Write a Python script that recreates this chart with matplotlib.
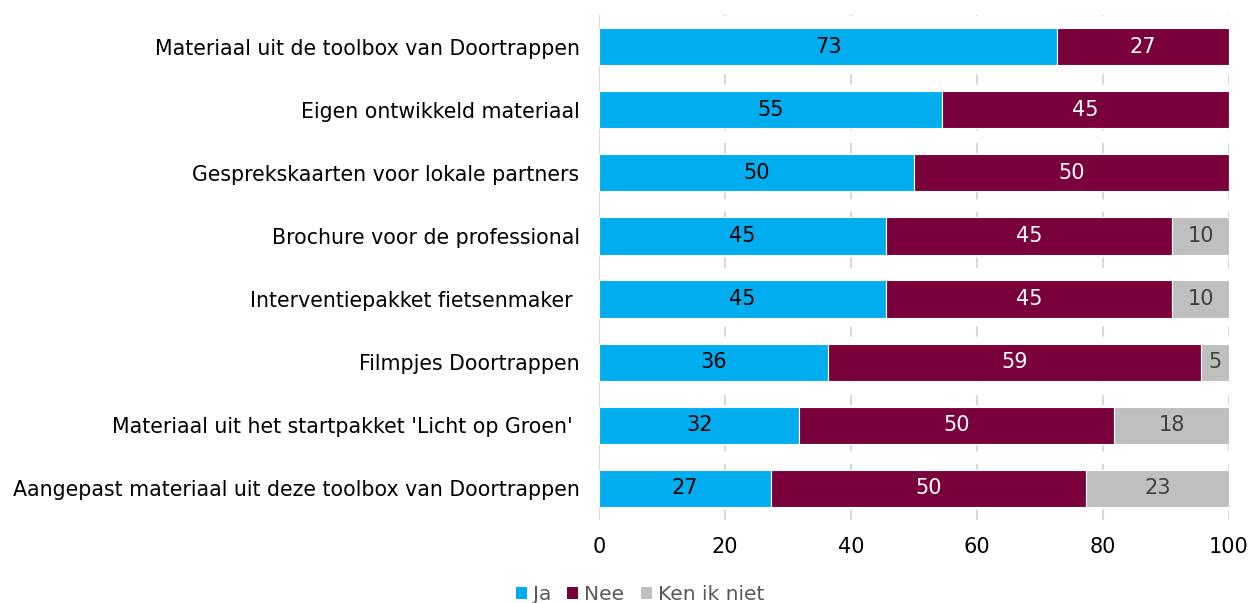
import numpy as np
import matplotlib.pyplot as plt
from matplotlib.patches import Patch

categories = [
    "Materiaal uit de toolbox van Doortrappen",
    "Eigen ontwikkeld materiaal",
    "Gesprekskaarten voor lokale partners",
    "Brochure voor de professional",
    "Interventiepakket fietsenmaker ",
    "Filmpjes Doortrappen",
    "Materiaal uit het startpakket 'Licht op Groen' ",
    "Aangepast materiaal uit deze toolbox van Doortrappen",
]
ja = [72.7, 54.5, 50.0, 45.5, 45.5, 36.4, 31.8, 27.3]
nee = [27.3, 45.5, 50.0, 45.5, 45.5, 59.1, 50.0, 50.0]
ken_ik_niet = [0.0, 0.0, 0.0, 9.0, 9.0, 4.5, 18.2, 22.7]
ja_labels = ["73", "55", "50", "45", "45", "36", "32", "27"]
nee_labels = ["27", "45", "50", "45", "45", "59", "50", "50"]
kin_labels = ["", "", "", "10", "10", "5", "18", "23"]

series = [
    ("Ja", ja, ja_labels, "#00AEEF", "black"),
    ("Nee", nee, nee_labels, "#7A003C", "white"),
    ("Ken ik niet", ken_ik_niet, kin_labels, "#BFBFBF", "#404040"),
]

plt.rcParams['font.family'] = 'DejaVu Sans'

fig = plt.figure(figsize=(12.5, 6.03), dpi=100)
ax = fig.add_axes([0.4792, 0.1376, 0.504, 0.8375])

y = np.arange(len(categories))
left = np.zeros(len(categories))
for name, vals, labels, color, tcolor in series:
    vals = np.array(vals)
    bars = ax.barh(y, vals, left=left, height=0.59, color=color,
                   edgecolor='white', linewidth=0.8, zorder=3)
    for b, lab in zip(bars, labels):
        if lab:
            ax.text(b.get_x() + b.get_width() / 2, b.get_y() + b.get_height() / 2,
                    lab, ha='center', va='center', fontsize=15, color=tcolor, zorder=4)
    left += vals

ax.set_xlim(0, 100)
ax.set_ylim(7.5, -0.5)
ax.set_yticks(y)
ax.set_yticklabels(categories, fontsize=14.8)
ax.set_xticks([0, 20, 40, 60, 80, 100])
ax.tick_params(axis='x', labelsize=15, length=0, pad=12)
ax.tick_params(axis='y', length=0, pad=14)
ax.grid(axis='x', color='#D9D9D9', linestyle=(0, (5, 6)), linewidth=1.5, zorder=0)
ax.axvline(0, color='#D9D9D9', linewidth=1.5, zorder=1)
for s in ax.spines.values():
    s.set_visible(False)

handles = [Patch(facecolor=c, label=n) for n, _, _, c, _ in series]
leg = fig.legend(handles=handles, loc='center', bbox_to_anchor=(0.512, 0.014),
                 ncol=3, frameon=False, fontsize=14.5, handlelength=0.55,
                 handleheight=0.55, handletextpad=0.3, columnspacing=0.8)
for t in leg.get_texts():
    t.set_color('#595959')

fig.savefig('out.png', dpi=100)
